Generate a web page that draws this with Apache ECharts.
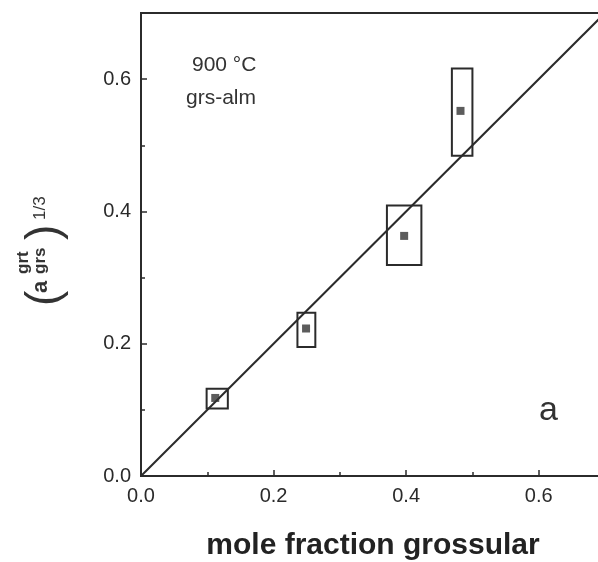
<!DOCTYPE html>
<html>
<head>
<meta charset="utf-8">
<script src="https://cdn.jsdelivr.net/npm/echarts@6/dist/echarts.min.js"></script>
<style>
  html, body { margin: 0; padding: 0; background: #fff; }
  #chart { width: 598px; height: 562px; }
</style>
</head>
<body>
<div id="chart"></div>
<script>
// measured points (mole fraction grossular vs activity^(1/3))
const xGrs = [0.112, 0.249, 0.397, 0.482]
const actY = [0.118, 0.223, 0.363, 0.552]
// uncertainty boxes
const xLo = [0.099, 0.236, 0.371, 0.469]
const xHi = [0.131, 0.263, 0.423, 0.500]
const yLo = [0.102, 0.195, 0.319, 0.484]
const yHi = [0.132, 0.247, 0.409, 0.616]
// ideal mixing line
const lineX = [0, 0.7]
const lineY = [0, 0.7]

const ink = '#2b2b2b'
const font = '"Liberation Sans", Arial, sans-serif'

const chart = echarts.init(document.getElementById('chart'))

const axisCommon = {
  type: 'value',
  min: 0,
  max: 0.7,
  interval: 0.2,
  axisLine: { show: true, lineStyle: { color: ink, width: 2 } },
  axisTick: { show: true, inside: true, length: 6, lineStyle: { color: ink, width: 1.5 } },
  minorTick: { show: true, splitNumber: 2, length: 4, lineStyle: { color: ink, width: 1.5 } },
  splitLine: { show: false },
  minorSplitLine: { show: false },
  axisLabel: {
    color: '#2a2a2a',
    fontSize: 20,
    fontFamily: font,
    showMaxLabel: false,
    formatter: (v) => v.toFixed(1),
  },
}

chart.setOption({
  animation: false,
  grid: {
    left: 141, width: 464, top: 13, bottom: 86,
    outerBoundsMode: 'none',
    containLabel: false,
    show: true, borderColor: ink, borderWidth: 2,
  },
  xAxis: {
    ...axisCommon,
    name: 'mole fraction grossular',
    nameLocation: 'middle',
    nameGap: 55,
    nameTextStyle: { color: '#222', fontSize: 30, fontWeight: 'bold', fontFamily: font },
    axisLabel: { ...axisCommon.axisLabel, margin: 10 },
  },
  yAxis: {
    ...axisCommon,
    axisLabel: { ...axisCommon.axisLabel, margin: 10 },
  },
  graphic: [
    {
      type: 'text', left: 192, top: 55,
      style: { text: '900 °C', fill: '#333', font: '21px ' + font },
    },
    {
      type: 'text', left: 186, top: 88,
      style: { text: 'grs-alm', fill: '#333', font: '21px ' + font },
    },
    {
      type: 'text', left: 539, top: 394,
      style: { text: 'a', fill: '#333', font: '34px ' + font },
    },
    {
      type: 'group',
      x: 46, y: 306,
      rotation: Math.PI / 2,
      children: [
        { type: 'text', x: 0, y: -24, style: { text: '(', fill: '#333', font: '46px ' + font } },
        { type: 'text', x: 13, y: -16, style: { text: 'a', fill: '#333', font: 'bold 22px ' + font } },
        { type: 'text', x: 32, y: -31, style: { text: 'grt', fill: '#333', font: 'bold 17px ' + font } },
        { type: 'text', x: 32, y: -14, style: { text: 'grs', fill: '#333', font: 'bold 17px ' + font } },
        { type: 'text', x: 66, y: -24, style: { text: ')', fill: '#333', font: '46px ' + font } },
        { type: 'text', x: 86, y: -14, style: { text: '1/3', fill: '#333', font: '17px ' + font } },
      ],
    },
  ],
  series: [
    {
      type: 'line',
      data: lineX.map((x, i) => [x, lineY[i]]),
      showSymbol: false,
      lineStyle: { color: ink, width: 2 },
      z: 2,
    },
    {
      type: 'custom',
      data: xLo.map((x, i) => [x, yLo[i], xHi[i], yHi[i]]),
      renderItem: (params, api) => {
        const p0 = api.coord([api.value(0), api.value(3)])
        const p1 = api.coord([api.value(2), api.value(1)])
        return {
          type: 'rect',
          shape: { x: p0[0], y: p0[1], width: p1[0] - p0[0], height: p1[1] - p0[1] },
          style: { fill: 'none', stroke: ink, lineWidth: 2 },
        }
      },
      z: 3,
    },
    {
      type: 'scatter',
      data: xGrs.map((x, i) => [x, actY[i]]),
      symbol: 'rect',
      symbolSize: 8,
      itemStyle: { color: '#333' },
      z: 4,
    },
  ],
})
</script>
</body>
</html>
